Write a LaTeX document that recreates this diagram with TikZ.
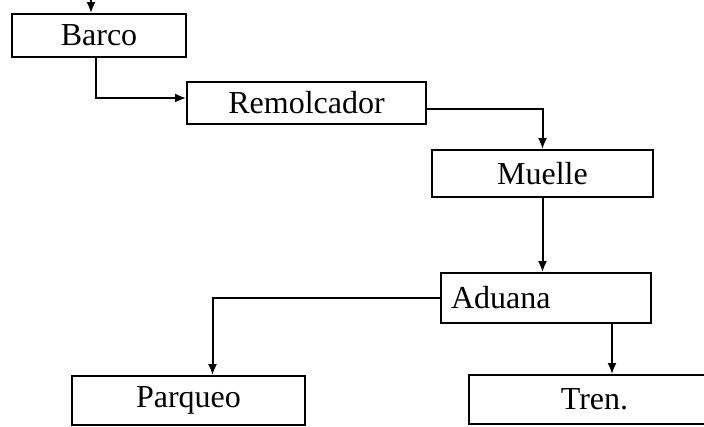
\documentclass[tikz,border=0pt]{standalone}
\usepackage{fontspec}
\setmainfont{Liberation Serif}
\usetikzlibrary{arrows.meta}
\begin{document}
\begin{tikzpicture}[x=1pt,y=-1pt,
  box/.style={draw, line width=1.8pt, inner sep=0pt, font=\fontsize{32}{36}\selectfont},
  arr/.style={draw, line width=2pt, -{Latex[length=11pt,width=9pt]}}]
\useasboundingbox (0,0) rectangle (704,426);
\node[box, minimum width=174pt, minimum height=43pt] (barco) at (99,35.5) {Barco};
\node[box, minimum width=239pt, minimum height=42pt] (remol) at (306.5,103) {Remolcador};
\node[box, minimum width=221pt, minimum height=47pt] (muelle) at (542.5,173.5) {Muelle};
\node[box, minimum width=210pt, minimum height=50pt, inner xsep=10pt, text width=190pt, align=left] (aduana) at (546,298) {Aduana};
\node[box, minimum width=233pt, minimum height=49pt] (parqueo) at (188.5,400.5) {Parqueo};
\node[box, minimum width=251pt, minimum height=49pt] (tren) at (594.5,399.5) {Tren.};
\coordinate (start) at (91,0);
\draw[arr] (start) -- (start |- barco.north);
\draw[arr] ([xshift=-3pt]barco.south) |- ([yshift=5pt]remol.west);
\draw[arr] ([yshift=-6pt]remol.east) -| (muelle.north);
\draw[arr] (muelle.south) -- (muelle.south |- aduana.north);
\draw[arr] (aduana.west) -| ([xshift=24pt]parqueo.north);
\draw[arr] ([xshift=66pt]aduana.south) -- ([xshift=66pt]aduana.south |- tren.north);
\end{tikzpicture}
\end{document}
